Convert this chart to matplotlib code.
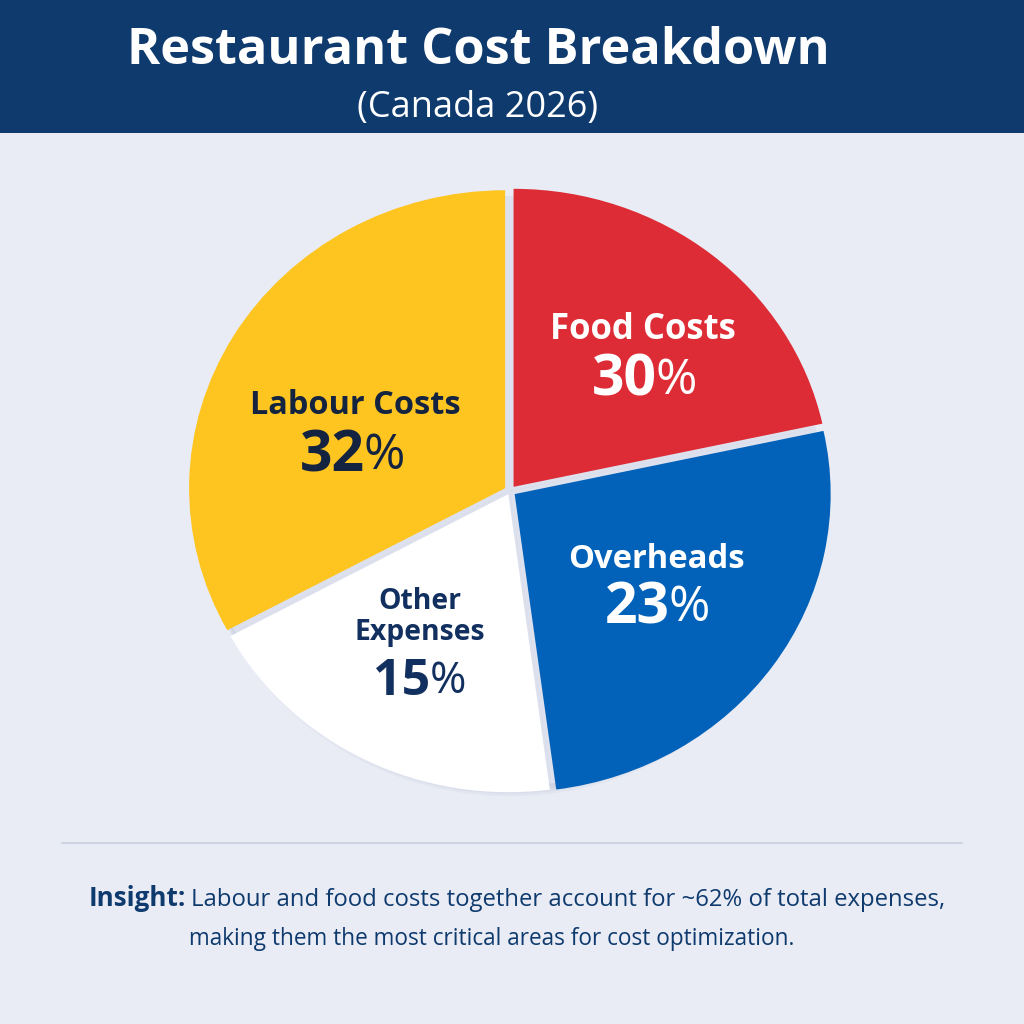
import matplotlib
matplotlib.use("Agg")
import matplotlib.pyplot as plt
from matplotlib.patches import Rectangle

categories = ["Food Costs", "Overheads", "Other\nExpenses", "Labour Costs"]
printed_shares = [30, 23, 15, 32]
# the slices in the picture are not drawn to their printed values, these are read off the picture
drawn_shares = [21.6, 26.3, 19.2, 32.9]

slice_colors = ["#dd2c35", "#0261b8", "#ffffff", "#fec41f"]
label_colors = ["#ffffff", "#ffffff", "#12305f", "#14233f"]

BG = "#e9ecf5"
NAVY = "#0e3a6e"
W = 1024

plt.rcParams["font.family"] = ["Open Sans", "DejaVu Sans"]

fig = plt.figure(figsize=(10.24, 10.24), dpi=100, facecolor=BG)


def px(x, y):
    return x / W, 1 - y / W


# header band
fig.add_artist(Rectangle((0, 1 - 133 / W), 1, 133 / W, transform=fig.transFigure,
                         facecolor=NAVY, edgecolor="none"))
fig.text(*px(478, 51), "Restaurant Cost Breakdown", color="white",
         fontsize=36.4, fontweight="bold", ha="center", va="center")
fig.text(*px(478, 108), "(Canada 2026)", color="white", fontsize=26, ha="center", va="center")

# the pie is a little wider than tall in the reference, so the axes are not equal
a, b = 316, 298
pad = 1.12
ax = fig.add_axes([(510 - a * pad) / W, 1 - (491 + b * pad) / W, 2 * a * pad / W, 2 * b * pad / W])

# soft shadow underneath the slices, then the lighter gap colour
for offset, alpha in [(-0.034, 0.25), (-0.026, 0.35), (-0.018, 0.5), (-0.010, 0.7)]:
    ax.pie(drawn_shares, colors=["#cdd3e4"] * 4, startangle=90, counterclock=False,
           radius=0.99, center=(0, offset), wedgeprops=dict(linewidth=0, alpha=alpha))
ax.pie(drawn_shares, colors=["#dde1ee"] * 4, startangle=90, counterclock=False,
       radius=0.99, wedgeprops=dict(linewidth=0))
ax.pie(drawn_shares, colors=slice_colors, startangle=90, counterclock=False, radius=1.0,
       explode=[0.018, 0.018, 0.012, 0.018], wedgeprops=dict(linewidth=0))
ax.set_aspect("auto")
ax.set_xlim(-pad, pad)
ax.set_ylim(-pad, pad)

name_pos = [(643, 330), (656, 559), (420, 617), (355, 405)]
name_size = [25, 23.6, 20.4, 23.4]
pct_pos = [(645, 381), (658, 608), (420, 682), (353, 456)]
pct_size = [41, 41, 36, 41]

renderer = fig.canvas.get_renderer()
for name, val, col, np_, ns, pp, ps in zip(categories, printed_shares, label_colors,
                                           name_pos, name_size, pct_pos, pct_size):
    fig.text(*px(*np_), name, color=col, fontsize=ns, fontweight="bold",
             ha="center", va="center", linespacing=1.12)
    # digits heavy, percent sign lighter and a bit smaller
    digits = fig.text(*px(*pp), str(val), color=col, fontsize=ps, fontweight="bold",
                      ha="left", va="center")
    sign = fig.text(*px(*pp), "%", color=col, fontsize=ps * 0.88, ha="left", va="center")
    dw = digits.get_window_extent(renderer).width
    sw = sign.get_window_extent(renderer).width
    left = pp[0] - (dw + sw) / 2
    digits.set_x(left / W)
    sign.set_x((left + dw - 1) / W)

# divider and insight text
fig.add_artist(plt.Line2D([62 / W, 962 / W], [1 - 843 / W] * 2, color="#c8cede", linewidth=1.2))
fig.text(*px(89, 899), "Insight:", color=NAVY, fontsize=18.7, fontweight="bold",
         ha="left", va="center")
fig.text(*px(191, 900), "Labour and food costs together account for ~62% of total expenses,",
         color=NAVY, fontsize=17.2, ha="left", va="center")
fig.text(*px(189, 939), "making them the most critical areas for cost optimization.",
         color=NAVY, fontsize=16.3, ha="left", va="center")

fig.savefig("out.png", dpi=100, facecolor=BG)
